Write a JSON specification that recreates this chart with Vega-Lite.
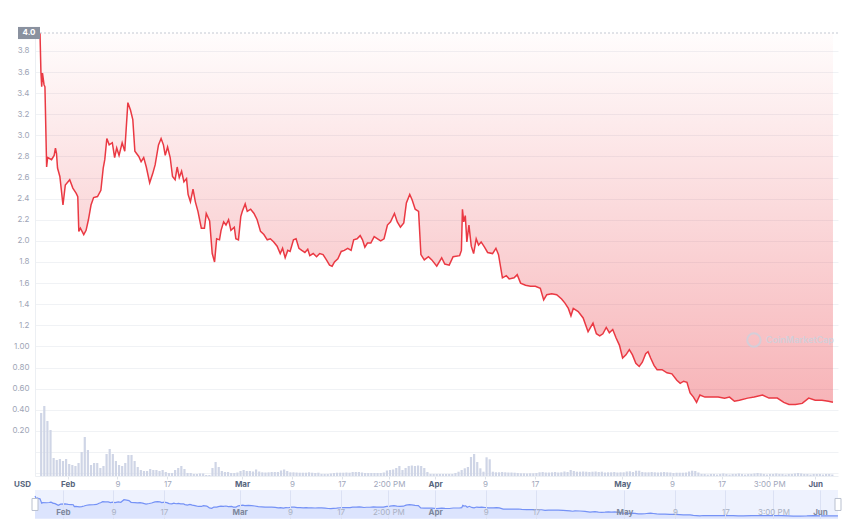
{
  "$schema": "https://vega.github.io/schema/vega-lite/v6.json",
  "background": "white",
  "padding": {"left": 11, "top": 26, "right": 5, "bottom": 0},
  "spacing": 2,
  "config": {"view": {"stroke": null}, "font": "Inter", "axis": {"labelFont": "Inter", "titleFont": "Inter"}},
  "datasets": {
    "price": [
      {"t":"2022-01-27T13:30","p":3.97},{"t":"2022-01-27T17:00","p":3.60},{"t":"2022-01-27T20:00","p":3.46},{"t":"2022-01-27T23:00","p":3.59},
      {"t":"2022-01-28T05:00","p":3.48},{"t":"2022-01-28T08:30","p":3.46},{"t":"2022-01-28T15:00","p":2.70},{"t":"2022-01-28T19:00","p":2.79},
      {"t":"2022-01-29T10:00","p":2.77},{"t":"2022-01-29T20:00","p":2.81},{"t":"2022-01-30T01:00","p":2.88},{"t":"2022-01-30T05:00","p":2.83},
      {"t":"2022-01-30T09:00","p":2.69},{"t":"2022-01-30T18:00","p":2.61},{"t":"2022-01-31T06:00","p":2.34},{"t":"2022-01-31T15:00","p":2.53},
      {"t":"2022-02-01T08:00","p":2.58},{"t":"2022-02-01T20:00","p":2.50},{"t":"2022-02-02T09:00","p":2.45},{"t":"2022-02-02T15:00","p":2.42},
      {"t":"2022-02-02T19:00","p":2.09},{"t":"2022-02-03T01:00","p":2.12},{"t":"2022-02-03T14:00","p":2.06},{"t":"2022-02-03T23:00","p":2.10},
      {"t":"2022-02-04T08:00","p":2.20},{"t":"2022-02-04T18:00","p":2.34},{"t":"2022-02-05T04:00","p":2.41},{"t":"2022-02-05T19:00","p":2.42},
      {"t":"2022-02-06T08:00","p":2.48},{"t":"2022-02-06T17:00","p":2.69},{"t":"2022-02-06T23:00","p":2.77},{"t":"2022-02-07T07:00","p":2.97},
      {"t":"2022-02-07T16:00","p":2.91},{"t":"2022-02-08T04:00","p":2.93},{"t":"2022-02-08T13:00","p":2.79},{"t":"2022-02-08T21:00","p":2.88},
      {"t":"2022-02-09T06:00","p":2.81},{"t":"2022-02-09T18:00","p":2.93},{"t":"2022-02-10T04:00","p":2.85},{"t":"2022-02-10T16:00","p":3.31},
      {"t":"2022-02-11T02:00","p":3.24},{"t":"2022-02-11T11:00","p":3.15},{"t":"2022-02-11T19:00","p":2.85},{"t":"2022-02-12T10:00","p":2.80},
      {"t":"2022-02-12T19:00","p":2.75},{"t":"2022-02-13T05:00","p":2.79},{"t":"2022-02-13T15:00","p":2.70},{"t":"2022-02-14T04:00","p":2.55},
      {"t":"2022-02-14T16:00","p":2.64},{"t":"2022-02-15T01:00","p":2.72},{"t":"2022-02-15T14:00","p":2.91},{"t":"2022-02-16T00:00","p":2.97},
      {"t":"2022-02-16T09:00","p":2.91},{"t":"2022-02-16T16:00","p":2.81},{"t":"2022-02-17T01:00","p":2.89},{"t":"2022-02-17T11:00","p":2.79},
      {"t":"2022-02-17T20:00","p":2.61},{"t":"2022-02-18T06:00","p":2.58},{"t":"2022-02-18T14:00","p":2.70},{"t":"2022-02-18T22:00","p":2.60},
      {"t":"2022-02-19T07:00","p":2.66},{"t":"2022-02-19T16:00","p":2.56},{"t":"2022-02-20T02:00","p":2.59},{"t":"2022-02-20T08:00","p":2.44},
      {"t":"2022-02-20T17:00","p":2.37},{"t":"2022-02-21T03:00","p":2.49},{"t":"2022-02-21T12:00","p":2.37},{"t":"2022-02-21T22:00","p":2.28},
      {"t":"2022-02-22T11:00","p":2.12},{"t":"2022-02-22T23:00","p":2.12},{"t":"2022-02-23T06:00","p":2.26},{"t":"2022-02-23T19:00","p":2.19},
      {"t":"2022-02-24T05:00","p":1.88},{"t":"2022-02-24T14:00","p":1.80},{"t":"2022-02-24T22:00","p":2.02},{"t":"2022-02-25T09:00","p":2.01},
      {"t":"2022-02-25T15:00","p":2.10},{"t":"2022-02-26T01:00","p":2.18},{"t":"2022-02-26T10:00","p":2.15},{"t":"2022-02-26T20:00","p":2.20},
      {"t":"2022-02-27T05:00","p":2.10},{"t":"2022-02-27T18:00","p":2.13},{"t":"2022-02-28T00:00","p":2.02},{"t":"2022-02-28T10:00","p":2.01},
      {"t":"2022-02-28T19:00","p":2.23},{"t":"2022-03-01T01:00","p":2.28},{"t":"2022-03-01T12:00","p":2.35},{"t":"2022-03-01T20:00","p":2.28},
      {"t":"2022-03-02T09:00","p":2.30},{"t":"2022-03-02T22:00","p":2.26},{"t":"2022-03-03T10:00","p":2.20},{"t":"2022-03-03T23:00","p":2.09},
      {"t":"2022-03-04T12:00","p":2.06},{"t":"2022-03-05T01:00","p":2.01},{"t":"2022-03-05T13:00","p":2.02},{"t":"2022-03-06T02:00","p":1.99},
      {"t":"2022-03-06T15:00","p":1.95},{"t":"2022-03-07T03:00","p":1.88},{"t":"2022-03-07T12:00","p":1.93},{"t":"2022-03-07T22:00","p":1.84},
      {"t":"2022-03-08T08:00","p":1.91},{"t":"2022-03-08T17:00","p":1.90},{"t":"2022-03-09T06:00","p":2.01},{"t":"2022-03-09T16:00","p":2.02},
      {"t":"2022-03-10T03:00","p":1.93},{"t":"2022-03-10T14:00","p":1.91},{"t":"2022-03-11T02:00","p":1.89},{"t":"2022-03-11T13:00","p":1.92},
      {"t":"2022-03-11T21:00","p":1.86},{"t":"2022-03-12T10:00","p":1.88},{"t":"2022-03-12T23:00","p":1.85},{"t":"2022-03-13T11:00","p":1.88},
      {"t":"2022-03-14T00:00","p":1.87},{"t":"2022-03-14T13:00","p":1.82},{"t":"2022-03-15T01:00","p":1.77},{"t":"2022-03-15T11:00","p":1.76},
      {"t":"2022-03-15T20:00","p":1.80},{"t":"2022-03-16T09:00","p":1.83},{"t":"2022-03-16T22:00","p":1.90},{"t":"2022-03-17T10:00","p":1.91},
      {"t":"2022-03-17T23:00","p":1.93},{"t":"2022-03-18T12:00","p":1.91},{"t":"2022-03-18T22:00","p":2.01},{"t":"2022-03-19T11:00","p":2.02},
      {"t":"2022-03-19T23:00","p":2.05},{"t":"2022-03-20T08:00","p":2.01},{"t":"2022-03-20T17:00","p":1.94},{"t":"2022-03-21T03:00","p":1.98},
      {"t":"2022-03-21T16:00","p":1.98},{"t":"2022-03-22T05:00","p":2.04},{"t":"2022-03-22T18:00","p":2.02},{"t":"2022-03-23T06:00","p":2.00},
      {"t":"2022-03-23T19:00","p":2.02},{"t":"2022-03-24T08:00","p":2.15},{"t":"2022-03-24T20:00","p":2.18},{"t":"2022-03-25T11:00","p":2.26},
      {"t":"2022-03-25T22:00","p":2.18},{"t":"2022-03-26T10:00","p":2.13},{"t":"2022-03-26T23:00","p":2.17},{"t":"2022-03-27T09:00","p":2.36},
      {"t":"2022-03-27T22:00","p":2.44},{"t":"2022-03-28T07:00","p":2.39},{"t":"2022-03-28T19:00","p":2.30},{"t":"2022-03-29T08:00","p":2.28},
      {"t":"2022-03-29T17:00","p":1.87},{"t":"2022-03-30T06:00","p":1.82},{"t":"2022-03-30T22:00","p":1.85},{"t":"2022-03-31T11:00","p":1.82},
      {"t":"2022-04-01T06:00","p":1.76},{"t":"2022-04-02T01:00","p":1.84},{"t":"2022-04-02T13:00","p":1.78},{"t":"2022-04-03T06:00","p":1.77},
      {"t":"2022-04-03T21:00","p":1.85},{"t":"2022-04-04T22:00","p":1.86},{"t":"2022-04-05T05:00","p":1.91},{"t":"2022-04-05T09:00","p":2.30},
      {"t":"2022-04-05T14:00","p":2.18},{"t":"2022-04-05T20:00","p":2.24},{"t":"2022-04-06T02:00","p":1.99},{"t":"2022-04-06T10:00","p":2.15},
      {"t":"2022-04-06T19:00","p":1.95},{"t":"2022-04-07T04:00","p":1.88},{"t":"2022-04-07T14:00","p":2.02},{"t":"2022-04-07T23:00","p":1.96},
      {"t":"2022-04-08T09:00","p":1.99},{"t":"2022-04-08T22:00","p":1.94},{"t":"2022-04-09T10:00","p":1.89},{"t":"2022-04-10T05:00","p":1.88},
      {"t":"2022-04-10T18:00","p":1.93},{"t":"2022-04-11T04:00","p":1.87},{"t":"2022-04-11T19:00","p":1.65},{"t":"2022-04-12T10:00","p":1.67},
      {"t":"2022-04-12T21:00","p":1.64},{"t":"2022-04-13T16:00","p":1.65},{"t":"2022-04-14T04:00","p":1.68},{"t":"2022-04-14T17:00","p":1.60},
      {"t":"2022-04-15T12:00","p":1.58},{"t":"2022-04-16T07:00","p":1.57},{"t":"2022-04-17T02:00","p":1.57},{"t":"2022-04-17T21:00","p":1.55},
      {"t":"2022-04-18T10:00","p":1.44},{"t":"2022-04-18T22:00","p":1.49},{"t":"2022-04-19T17:00","p":1.50},{"t":"2022-04-20T12:00","p":1.49},
      {"t":"2022-04-21T07:00","p":1.45},{"t":"2022-04-21T20:00","p":1.41},{"t":"2022-04-22T09:00","p":1.36},{"t":"2022-04-22T19:00","p":1.29},
      {"t":"2022-04-23T04:00","p":1.36},{"t":"2022-04-23T23:00","p":1.33},{"t":"2022-04-24T18:00","p":1.27},{"t":"2022-04-25T13:00","p":1.14},
      {"t":"2022-04-26T08:00","p":1.22},{"t":"2022-04-26T21:00","p":1.12},{"t":"2022-04-27T10:00","p":1.10},{"t":"2022-04-27T22:00","p":1.12},
      {"t":"2022-04-28T11:00","p":1.18},{"t":"2022-04-28T23:00","p":1.13},{"t":"2022-04-29T12:00","p":1.16},{"t":"2022-04-30T01:00","p":1.08},
      {"t":"2022-04-30T14:00","p":1.01},{"t":"2022-05-01T02:00","p":0.89},{"t":"2022-05-01T15:00","p":0.92},{"t":"2022-05-02T04:00","p":0.97},
      {"t":"2022-05-02T16:00","p":0.92},{"t":"2022-05-03T05:00","p":0.84},{"t":"2022-05-03T18:00","p":0.81},{"t":"2022-05-04T06:00","p":0.85},
      {"t":"2022-05-04T19:00","p":0.93},{"t":"2022-05-05T04:00","p":0.95},{"t":"2022-05-05T14:00","p":0.89},{"t":"2022-05-06T03:00","p":0.82},
      {"t":"2022-05-06T15:00","p":0.78},{"t":"2022-05-07T10:00","p":0.78},{"t":"2022-05-08T05:00","p":0.75},{"t":"2022-05-09T00:00","p":0.74},
      {"t":"2022-05-09T19:00","p":0.68},{"t":"2022-05-10T08:00","p":0.65},{"t":"2022-05-10T21:00","p":0.67},{"t":"2022-05-11T10:00","p":0.66},
      {"t":"2022-05-11T22:00","p":0.56},{"t":"2022-05-12T11:00","p":0.52},{"t":"2022-05-12T23:00","p":0.47},{"t":"2022-05-13T12:00","p":0.54},
      {"t":"2022-05-14T07:00","p":0.52},{"t":"2022-05-15T09:00","p":0.52},{"t":"2022-05-16T10:00","p":0.52},{"t":"2022-05-17T11:00","p":0.51},
      {"t":"2022-05-18T06:00","p":0.52},{"t":"2022-05-19T01:00","p":0.48},{"t":"2022-05-19T20:00","p":0.49},{"t":"2022-05-21T04:00","p":0.51},
      {"t":"2022-05-22T05:00","p":0.52},{"t":"2022-05-23T13:00","p":0.54},{"t":"2022-05-24T14:00","p":0.51},{"t":"2022-05-25T22:00","p":0.51},
      {"t":"2022-05-26T23:00","p":0.47},{"t":"2022-05-27T19:00","p":0.45},{"t":"2022-05-28T20:00","p":0.45},{"t":"2022-05-29T22:00","p":0.46},
      {"t":"2022-05-30T23:00","p":0.51},{"t":"2022-06-01T00:00","p":0.49},{"t":"2022-06-02T02:00","p":0.49},{"t":"2022-06-03T03:00","p":0.48},
      {"t":"2022-06-03T20:30","p":0.47}
    ],
    "vol": [
      {"t":"2022-01-27T18:00","v":63},
      {"t":"2022-01-28T06:00","v":70},{"t":"2022-01-28T18:00","v":55},{"t":"2022-01-29T06:00","v":46},{"t":"2022-01-29T18:00","v":18},
      {"t":"2022-01-30T06:00","v":16},{"t":"2022-01-30T18:00","v":17},{"t":"2022-01-31T06:00","v":15},{"t":"2022-01-31T18:00","v":17},
      {"t":"2022-02-01T06:00","v":12},{"t":"2022-02-01T18:00","v":11},{"t":"2022-02-02T06:00","v":10},{"t":"2022-02-02T18:00","v":13},
      {"t":"2022-02-03T06:00","v":24},{"t":"2022-02-03T18:00","v":39},{"t":"2022-02-04T06:00","v":26},{"t":"2022-02-04T18:00","v":11},
      {"t":"2022-02-05T06:00","v":13},{"t":"2022-02-05T18:00","v":13},{"t":"2022-02-06T06:00","v":8},{"t":"2022-02-06T18:00","v":10},
      {"t":"2022-02-07T06:00","v":22},{"t":"2022-02-07T18:00","v":27},{"t":"2022-02-08T06:00","v":22},{"t":"2022-02-08T18:00","v":15},
      {"t":"2022-02-09T06:00","v":11},{"t":"2022-02-09T18:00","v":10},{"t":"2022-02-10T06:00","v":13},{"t":"2022-02-10T18:00","v":21},
      {"t":"2022-02-11T06:00","v":21},{"t":"2022-02-11T18:00","v":15},{"t":"2022-02-12T06:00","v":9},{"t":"2022-02-12T18:00","v":6},
      {"t":"2022-02-13T06:00","v":5},{"t":"2022-02-13T18:00","v":5},{"t":"2022-02-14T06:00","v":7},{"t":"2022-02-14T18:00","v":6},
      {"t":"2022-02-15T06:00","v":6},{"t":"2022-02-15T18:00","v":5},{"t":"2022-02-16T06:00","v":6},{"t":"2022-02-16T18:00","v":4},
      {"t":"2022-02-17T06:00","v":3},{"t":"2022-02-17T18:00","v":3},{"t":"2022-02-18T06:00","v":6},{"t":"2022-02-18T18:00","v":8},
      {"t":"2022-02-19T06:00","v":10},{"t":"2022-02-19T18:00","v":7},{"t":"2022-02-20T06:00","v":3},{"t":"2022-02-20T18:00","v":3},
      {"t":"2022-02-21T06:00","v":2},{"t":"2022-02-21T18:00","v":2},{"t":"2022-02-22T06:00","v":2.5},{"t":"2022-02-22T18:00","v":2.5},
      {"t":"2022-02-23T06:00","v":1},{"t":"2022-02-23T18:00","v":1},{"t":"2022-02-24T06:00","v":8},{"t":"2022-02-24T18:00","v":14},
      {"t":"2022-02-25T06:00","v":9},{"t":"2022-02-25T18:00","v":5},{"t":"2022-02-26T06:00","v":4},{"t":"2022-02-26T18:00","v":4},
      {"t":"2022-02-27T06:00","v":3},{"t":"2022-02-27T18:00","v":3},{"t":"2022-02-28T06:00","v":3.5},{"t":"2022-02-28T18:00","v":5},
      {"t":"2022-03-01T06:00","v":6},{"t":"2022-03-01T18:00","v":5},{"t":"2022-03-02T06:00","v":5},{"t":"2022-03-02T18:00","v":4.5},
      {"t":"2022-03-03T06:00","v":6.5},{"t":"2022-03-03T18:00","v":4.5},{"t":"2022-03-04T06:00","v":3.7},{"t":"2022-03-04T18:00","v":3.5},
      {"t":"2022-03-05T06:00","v":3.7},{"t":"2022-03-05T18:00","v":4},{"t":"2022-03-06T06:00","v":4},{"t":"2022-03-06T18:00","v":4},
      {"t":"2022-03-07T06:00","v":5.5},{"t":"2022-03-07T18:00","v":6.5},{"t":"2022-03-08T06:00","v":5},{"t":"2022-03-08T18:00","v":3.7},
      {"t":"2022-03-09T06:00","v":3.7},{"t":"2022-03-09T18:00","v":3.5},{"t":"2022-03-10T06:00","v":3.3},{"t":"2022-03-10T18:00","v":3.3},
      {"t":"2022-03-11T06:00","v":3.3},{"t":"2022-03-11T18:00","v":3.7},{"t":"2022-03-12T06:00","v":3.3},{"t":"2022-03-12T18:00","v":3},
      {"t":"2022-03-13T06:00","v":3.3},{"t":"2022-03-13T18:00","v":2},{"t":"2022-03-14T06:00","v":2},{"t":"2022-03-14T18:00","v":2},
      {"t":"2022-03-15T06:00","v":2.5},{"t":"2022-03-15T18:00","v":3},{"t":"2022-03-16T06:00","v":3.3},{"t":"2022-03-16T18:00","v":3.3},
      {"t":"2022-03-17T06:00","v":3.3},{"t":"2022-03-17T18:00","v":3.5},{"t":"2022-03-18T06:00","v":3.3},{"t":"2022-03-18T18:00","v":4},
      {"t":"2022-03-19T06:00","v":4},{"t":"2022-03-19T18:00","v":4},{"t":"2022-03-20T06:00","v":3.5},{"t":"2022-03-20T18:00","v":3},
      {"t":"2022-03-21T06:00","v":3},{"t":"2022-03-21T18:00","v":3},{"t":"2022-03-22T06:00","v":3},{"t":"2022-03-22T18:00","v":3},
      {"t":"2022-03-23T06:00","v":3},{"t":"2022-03-23T18:00","v":3.5},{"t":"2022-03-24T06:00","v":5.5},{"t":"2022-03-24T18:00","v":6},
      {"t":"2022-03-25T06:00","v":6.5},{"t":"2022-03-25T18:00","v":8},{"t":"2022-03-26T06:00","v":10},{"t":"2022-03-26T18:00","v":6},
      {"t":"2022-03-27T06:00","v":8},{"t":"2022-03-27T18:00","v":10},{"t":"2022-03-28T06:00","v":10.5},{"t":"2022-03-28T18:00","v":10},
      {"t":"2022-03-29T06:00","v":10.5},{"t":"2022-03-29T18:00","v":10},{"t":"2022-03-30T06:00","v":8},{"t":"2022-03-30T18:00","v":4},
      {"t":"2022-03-31T06:00","v":2},{"t":"2022-03-31T18:00","v":2},{"t":"2022-04-01T06:00","v":2},{"t":"2022-04-01T18:00","v":2},
      {"t":"2022-04-02T06:00","v":2},{"t":"2022-04-02T18:00","v":2},{"t":"2022-04-03T06:00","v":2},{"t":"2022-04-03T18:00","v":2},
      {"t":"2022-04-04T06:00","v":3},{"t":"2022-04-04T18:00","v":4.3},{"t":"2022-04-05T06:00","v":6},{"t":"2022-04-05T18:00","v":7.7},
      {"t":"2022-04-06T06:00","v":9},{"t":"2022-04-06T18:00","v":19},{"t":"2022-04-07T06:00","v":22},{"t":"2022-04-07T18:00","v":14},
      {"t":"2022-04-08T06:00","v":7.7},{"t":"2022-04-08T18:00","v":4.3},{"t":"2022-04-09T06:00","v":18.7},{"t":"2022-04-09T18:00","v":16.7},
      {"t":"2022-04-10T06:00","v":4.3},{"t":"2022-04-10T18:00","v":3.7},{"t":"2022-04-11T06:00","v":3.7},{"t":"2022-04-11T18:00","v":4},
      {"t":"2022-04-12T06:00","v":3.7},{"t":"2022-04-12T18:00","v":3.5},{"t":"2022-04-13T06:00","v":3.5},{"t":"2022-04-13T18:00","v":3.3},
      {"t":"2022-04-14T06:00","v":3},{"t":"2022-04-14T18:00","v":2.7},{"t":"2022-04-15T06:00","v":2.7},{"t":"2022-04-15T18:00","v":2.5},
      {"t":"2022-04-16T06:00","v":2.7},{"t":"2022-04-16T18:00","v":2.7},{"t":"2022-04-17T06:00","v":3},{"t":"2022-04-17T18:00","v":3.7},
      {"t":"2022-04-18T06:00","v":4},{"t":"2022-04-18T18:00","v":3.5},{"t":"2022-04-19T06:00","v":3.5},{"t":"2022-04-19T18:00","v":3.7},
      {"t":"2022-04-20T06:00","v":4},{"t":"2022-04-20T18:00","v":3.5},{"t":"2022-04-21T06:00","v":3.7},{"t":"2022-04-21T18:00","v":4.5},
      {"t":"2022-04-22T06:00","v":4},{"t":"2022-04-22T18:00","v":6},{"t":"2022-04-23T06:00","v":5},{"t":"2022-04-23T18:00","v":4.3},
      {"t":"2022-04-24T06:00","v":4.3},{"t":"2022-04-24T18:00","v":4.5},{"t":"2022-04-25T06:00","v":4.3},{"t":"2022-04-25T18:00","v":4},
      {"t":"2022-04-26T06:00","v":4.3},{"t":"2022-04-26T18:00","v":4.5},{"t":"2022-04-27T06:00","v":4},{"t":"2022-04-27T18:00","v":4.3},
      {"t":"2022-04-28T06:00","v":3.5},{"t":"2022-04-28T18:00","v":3.7},{"t":"2022-04-29T06:00","v":3.7},{"t":"2022-04-29T18:00","v":4},
      {"t":"2022-04-30T06:00","v":3.5},{"t":"2022-04-30T18:00","v":3.7},{"t":"2022-05-01T06:00","v":3.7},{"t":"2022-05-01T18:00","v":4.5},
      {"t":"2022-05-02T06:00","v":4.7},{"t":"2022-05-02T18:00","v":4},{"t":"2022-05-03T06:00","v":5.3},{"t":"2022-05-03T18:00","v":5.3},
      {"t":"2022-05-04T06:00","v":4},{"t":"2022-05-04T18:00","v":3.7},{"t":"2022-05-05T06:00","v":3.7},{"t":"2022-05-05T18:00","v":4},
      {"t":"2022-05-06T06:00","v":3.7},{"t":"2022-05-06T18:00","v":3.5},{"t":"2022-05-07T06:00","v":3.7},{"t":"2022-05-07T18:00","v":4},
      {"t":"2022-05-08T06:00","v":3.7},{"t":"2022-05-08T18:00","v":3.5},{"t":"2022-05-09T06:00","v":3},{"t":"2022-05-09T18:00","v":3.3},
      {"t":"2022-05-10T06:00","v":3.3},{"t":"2022-05-10T18:00","v":3.3},{"t":"2022-05-11T06:00","v":3.5},{"t":"2022-05-11T18:00","v":4.5},
      {"t":"2022-05-12T06:00","v":5.3},{"t":"2022-05-12T18:00","v":5},{"t":"2022-05-13T06:00","v":3.5},{"t":"2022-05-13T18:00","v":2},
      {"t":"2022-05-14T06:00","v":2},{"t":"2022-05-14T18:00","v":1.5},{"t":"2022-05-15T06:00","v":2},{"t":"2022-05-15T18:00","v":2},
      {"t":"2022-05-16T06:00","v":1.5},{"t":"2022-05-16T18:00","v":2},{"t":"2022-05-17T06:00","v":2.5},{"t":"2022-05-17T18:00","v":2},
      {"t":"2022-05-18T06:00","v":1.5},{"t":"2022-05-18T18:00","v":2},{"t":"2022-05-19T06:00","v":2},{"t":"2022-05-19T18:00","v":2.5},
      {"t":"2022-05-20T06:00","v":2},{"t":"2022-05-20T18:00","v":1.5},{"t":"2022-05-21T06:00","v":2},{"t":"2022-05-21T18:00","v":2},
      {"t":"2022-05-22T06:00","v":2.5},{"t":"2022-05-22T18:00","v":3},{"t":"2022-05-23T06:00","v":2.5},{"t":"2022-05-23T18:00","v":2},
      {"t":"2022-05-24T06:00","v":1.5},{"t":"2022-05-24T18:00","v":2},{"t":"2022-05-25T06:00","v":2},{"t":"2022-05-25T18:00","v":2.5},
      {"t":"2022-05-26T06:00","v":2},{"t":"2022-05-26T18:00","v":2},{"t":"2022-05-27T06:00","v":1.5},{"t":"2022-05-27T18:00","v":2},
      {"t":"2022-05-28T06:00","v":2},{"t":"2022-05-28T18:00","v":2.5},{"t":"2022-05-29T06:00","v":3},{"t":"2022-05-29T18:00","v":2.5},
      {"t":"2022-05-30T06:00","v":2},{"t":"2022-05-30T18:00","v":2},{"t":"2022-05-31T06:00","v":1.5},{"t":"2022-05-31T18:00","v":2},
      {"t":"2022-06-01T06:00","v":2},{"t":"2022-06-01T18:00","v":2},{"t":"2022-06-02T06:00","v":1.5},{"t":"2022-06-02T18:00","v":2},
      {"t":"2022-06-03T06:00","v":2},{"t":"2022-06-03T18:00","v":1.5}
    ],
    "ends": [{"t":"2022-01-27T13:28"},{"t":"2022-06-03T20:37"}]
  },
  "vconcat": [
    {
      "width": 803,
      "height": 443,
      "layer": [
        {
          "layer": [
            {
              "data": {"name": "price"},
              "mark": {"type": "area", "color": {"gradient": "linear", "x1": 0, "y1": 0, "x2": 0, "y2": 1, "stops": [{"offset": 0, "color": "rgba(234,57,67,0.01)"}, {"offset": 1, "color": "rgba(234,57,67,0.38)"}]}},
              "encoding": {
                "x": {"field": "t", "type": "temporal", "title": "USD",
                  "scale": {"domain": [{"year": 2022, "month": 1, "date": 27, "hours": 13, "minutes": 28}, {"year": 2022, "month": 6, "date": 3, "hours": 20, "minutes": 37}]},
                  "axis": {
                    "values": [
                      {"year": 2022, "month": 2, "date": 1}, {"year": 2022, "month": 2, "date": 9}, {"year": 2022, "month": 2, "date": 17},
                      {"year": 2022, "month": 3, "date": 1}, {"year": 2022, "month": 3, "date": 9}, {"year": 2022, "month": 3, "date": 17},
                      {"year": 2022, "month": 3, "date": 24, "hours": 14}, {"year": 2022, "month": 4, "date": 1}, {"year": 2022, "month": 4, "date": 9},
                      {"year": 2022, "month": 4, "date": 17}, {"year": 2022, "month": 5, "date": 1}, {"year": 2022, "month": 5, "date": 9},
                      {"year": 2022, "month": 5, "date": 17}, {"year": 2022, "month": 5, "date": 24, "hours": 15}, {"year": 2022, "month": 6, "date": 1}
                    ],
                    "tickCount": 40,
                    "labelExpr": "date(datum.value)==1 && hours(datum.value)==0 ? timeFormat(datum.value,'%b') : hours(datum.value)>0 ? timeFormat(datum.value,'%-I:%M %p') : timeFormat(datum.value,'%-d')",
                    "labelColor": {"condition": {"test": "date(datum.value)==1 && hours(datum.value)==0", "value": "#58667e"}, "value": "#a1a7bb"},
                    "labelFontWeight": {"condition": {"test": "date(datum.value)==1 && hours(datum.value)==0", "value": "bold"}, "value": "normal"},
                    "labelFontSize": 8,
                    "labelOverlap": false,
                    "labelFlush": false,
                    "labelBaseline": "middle",
                    "labelPadding": 5,
                    "tickSize": 3,
                    "tickColor": "#dfe3ea",
                    "domainColor": "#eceff3",
                    "grid": false,
                    "titleX": -13,
                    "titleY": 8,
                    "titleAlign": "center",
                    "titleBaseline": "middle",
                    "titleFontSize": 8,
                    "titleFontWeight": "bold",
                    "titleColor": "#58667e"
                  }
                },
                "y": {"field": "p", "type": "quantitative", "title": null,
                  "scale": {"domain": [-0.228, 3.97], "nice": false, "zero": false},
                  "axis": {
                    "values": [-0.2, 0, 0.2, 0.4, 0.6, 0.8, 1.0, 1.2, 1.4, 1.6, 1.8, 2.0, 2.2, 2.4, 2.6, 2.8, 3.0, 3.2, 3.4, 3.6, 3.8],
                    "tickCount": 40,
                    "labelExpr": "datum.value < 0.1 ? '' : datum.value < 1.1 ? format(datum.value, '.2f') : format(datum.value, '.1f')",
                    "labelFontSize": 8,
                    "labelColor": "#9ea5b6",
                    "labelPadding": 6,
                    "labelOverlap": false,
                    "labelFlush": false,
                    "ticks": false,
                    "grid": true,
                    "gridColor": "#f0f2f5",
                    "domainColor": "#eceff3"
                  }
                },
                "y2": {"datum": 3.97}
              }
            },
            {
              "data": {"name": "price"},
              "mark": {"type": "line", "color": "#ea3943", "strokeWidth": 1.5},
              "encoding": {
                "x": {"field": "t", "type": "temporal", "title": "USD"},
                "y": {"field": "p", "type": "quantitative", "title": null}
              }
            },
            {
              "data": {"values": [{}]},
              "mark": {"type": "rule", "color": "#c3c8d2", "strokeDash": [2, 2], "strokeWidth": 1},
              "encoding": {"y": {"datum": 3.97}}
            },
            {
              "data": {"values": [{"label": "4.0", "t": "2022-01-27T13:28", "p": 3.97}]},
              "mark": {"type": "point", "shape": "M-1,-0.55H1V0.55H-1Z", "filled": true, "color": "#8a919f", "opacity": 1, "size": 484, "xOffset": -11},
              "encoding": {
                "x": {"field": "t", "type": "temporal", "title": "USD"},
                "y": {"field": "p", "type": "quantitative", "title": null}
              }
            },
            {
              "data": {"values": [{"label": "4.0", "t": "2022-01-27T13:28", "p": 3.97}]},
              "mark": {"type": "text", "color": "white", "fontSize": 8, "fontWeight": "bold", "align": "center", "baseline": "middle", "dx": -11},
              "encoding": {
                "x": {"field": "t", "type": "temporal", "title": "USD"},
                "y": {"field": "p", "type": "quantitative", "title": null},
                "text": {"field": "label"}
              }
            },
            {
              "data": {"values": [{"t": "2022-05-22T04:00", "p": 1.06}]},
              "mark": {"type": "point", "shape": "circle", "filled": false, "color": "#cdd2de", "strokeWidth": 2, "size": 180, "opacity": 0.8},
              "encoding": {
                "x": {"field": "t", "type": "temporal", "title": "USD"},
                "y": {"field": "p", "type": "quantitative", "title": null}
              }
            },
            {
              "data": {"values": [{"t": "2022-05-24T02:00", "p": 1.06, "label": "CoinMarketCap"}]},
              "mark": {"type": "text", "color": "#cdd2de", "opacity": 0.85, "fontSize": 9, "fontWeight": 600, "align": "left", "baseline": "middle"},
              "encoding": {
                "x": {"field": "t", "type": "temporal", "title": "USD"},
                "y": {"field": "p", "type": "quantitative", "title": null},
                "text": {"field": "label"}
              }
            }
          ]
        },
        {
          "data": {"name": "vol"},
          "mark": {"type": "bar", "size": 2.2, "color": "#cfd5e6"},
          "encoding": {
            "x": {"field": "t", "type": "temporal", "title": "USD"},
            "y": {"field": "v", "type": "quantitative", "scale": {"domain": [0, 443], "nice": false}, "axis": null}
          }
        }
      ],
      "resolve": {"scale": {"y": "independent"}, "axis": {"y": "independent"}}
    },
    {
      "width": 803,
      "height": 29,
      "view": {"fill": "#eef2fe", "stroke": null},
      "layer": [
        {
          "data": {"name": "price"},
          "mark": {"type": "area", "color": "#dce4fd"},
          "encoding": {
            "x": {"field": "t", "type": "temporal", "title": null,
              "scale": {"domain": [{"year": 2022, "month": 1, "date": 27, "hours": 13, "minutes": 28}, {"year": 2022, "month": 6, "date": 3, "hours": 20, "minutes": 37}]},
              "axis": {
                "values": [
                  {"year": 2022, "month": 2, "date": 1}, {"year": 2022, "month": 2, "date": 9}, {"year": 2022, "month": 2, "date": 17},
                  {"year": 2022, "month": 3, "date": 1}, {"year": 2022, "month": 3, "date": 9}, {"year": 2022, "month": 3, "date": 17},
                  {"year": 2022, "month": 3, "date": 24, "hours": 14}, {"year": 2022, "month": 4, "date": 1}, {"year": 2022, "month": 4, "date": 9},
                  {"year": 2022, "month": 4, "date": 17}, {"year": 2022, "month": 5, "date": 1}, {"year": 2022, "month": 5, "date": 9},
                  {"year": 2022, "month": 5, "date": 17}, {"year": 2022, "month": 5, "date": 24, "hours": 15}, {"year": 2022, "month": 6, "date": 1}
                ],
                "tickCount": 40,
                "labelExpr": "date(datum.value)==1 && hours(datum.value)==0 ? timeFormat(datum.value,'%b') : hours(datum.value)>0 ? timeFormat(datum.value,'%-I:%M %p') : timeFormat(datum.value,'%-d')",
                "labelColor": {"condition": {"test": "date(datum.value)==1 && hours(datum.value)==0", "value": "#7d879c"}, "value": "#a9b1c3"},
                "labelFontWeight": {"condition": {"test": "date(datum.value)==1 && hours(datum.value)==0", "value": "bold"}, "value": "normal"},
                "labelFontSize": 8,
                "labelOverlap": false,
                "labelFlush": false,
                "labelBaseline": "middle",
                "labelPadding": 0,
                "offset": -7,
                "ticks": false,
                "domain": false,
                "grid": true,
                "gridColor": "#dbe1f4",
                "zindex": 1
              }
            },
            "y": {"field": "p", "type": "quantitative", "scale": {"domain": [-0.07, 5.0], "nice": false, "zero": false}, "axis": null}
          }
        },
        {
          "data": {"name": "price"},
          "mark": {"type": "line", "color": "#7592f6", "strokeWidth": 1.2},
          "encoding": {
            "x": {"field": "t", "type": "temporal", "title": null},
            "y": {"field": "p", "type": "quantitative"}
          }
        },
        {
          "data": {"name": "ends"},
          "mark": {"type": "point", "shape": "M-0.5,-1H0.5V1H-0.5Z", "filled": true, "fill": "white", "stroke": "#b9c0cf", "strokeWidth": 1, "opacity": 1, "size": 144},
          "encoding": {
            "x": {"field": "t", "type": "temporal", "title": null},
            "y": {"datum": 2.47}
          }
        }
      ]
    }
  ]
}
